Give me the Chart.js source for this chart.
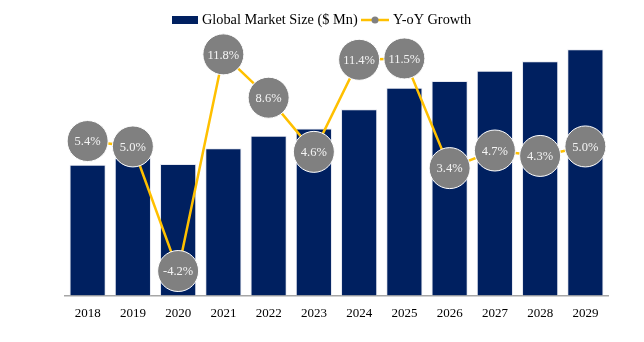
<!DOCTYPE html>
<html>
<head>
<meta charset="utf-8">
<script src="https://cdn.jsdelivr.net/npm/chart.js@4.4.1/dist/chart.umd.min.js"></script>
<style>
  html, body { margin: 0; padding: 0; background: #fff; }
  #wrap { width: 644px; height: 342px; }
</style>
</head>
<body>
<div id="wrap"><canvas id="marketChart"></canvas></div>
<script>
const years = ['2018', '2019', '2020', '2021', '2022', '2023', '2024', '2025', '2026', '2027', '2028', '2029'];
const marketSize = [1310, 1376, 1318, 1474, 1600, 1674, 1865, 2080, 2150, 2251, 2348, 2466];
const growth = [5.4, 5.0, -4.2, 11.8, 8.6, 4.6, 11.4, 11.5, 3.4, 4.7, 4.3, 5.0];

const NAVY = '#002060';
const GOLD = '#FFC000';
const GREY = '#808080';
const SERIF = "'Liberation Serif', 'DejaVu Serif', serif";

// legend drawn by hand: box for the bars, line-with-dot for the growth series
const legendPlugin = {
    id: 'customLegend',
    afterDraw(chart) {
        const c = chart.ctx;
        c.save();
        c.font = '14.3px ' + SERIF;
        c.textBaseline = 'middle';
        c.fillStyle = NAVY;
        c.fillRect(172, 16, 26, 8);
        c.fillStyle = '#000';
        c.fillText('Global Market Size ($ Mn)', 202, 20);
        c.strokeStyle = GOLD;
        c.lineWidth = 2.5;
        c.beginPath();
        c.moveTo(361, 20);
        c.lineTo(389, 20);
        c.stroke();
        c.fillStyle = GREY;
        c.beginPath();
        c.arc(375, 20, 3.5, 0, Math.PI * 2);
        c.fill();
        c.fillStyle = '#000';
        c.fillText('Y-oY Growth', 393, 20);
        c.restore();
    }
};

// percentage text inside each circle
const pointLabels = {
    id: 'pointLabels',
    afterDatasetsDraw(chart) {
        const meta = chart.getDatasetMeta(0);
        const c = chart.ctx;
        c.save();
        c.font = '12.5px ' + SERIF;
        c.fillStyle = '#f4f4f4';
        c.textAlign = 'center';
        c.textBaseline = 'middle';
        meta.data.forEach((pt, i) => {
            c.fillText(growth[i].toFixed(1) + '%', pt.x, pt.y + 1);
        });
        c.restore();
    }
};

new Chart(document.getElementById('marketChart'), {
    data: {
        labels: years,
        datasets: [{
            type: 'line',
            label: 'Y-oY Growth',
            data: growth,
            yAxisID: 'y2',
            order: 0,
            borderColor: GOLD,
            borderWidth: 2.5,
            tension: 0,
            pointRadius: 20.5,
            pointHoverRadius: 20.5,
            pointBackgroundColor: GREY,
            pointBorderColor: '#ffffff',
            pointBorderWidth: 1
        }, {
            type: 'bar',
            label: 'Global Market Size ($ Mn)',
            data: marketSize,
            yAxisID: 'y',
            order: 1,
            backgroundColor: NAVY,
            borderColor: '#e6e8f0',
            borderWidth: 1,
            barPercentage: 0.8,
            categoryPercentage: 1.0
        }]
    },
    options: {
        responsive: true,
        maintainAspectRatio: false,
        animation: false,
        layout: { padding: { left: 65, right: 36, top: 30, bottom: 11 } },
        plugins: {
            legend: { display: false },
            tooltip: { enabled: false }
        },
        scales: {
            x: {
                grid: { display: false, drawTicks: false },
                border: { display: true, color: '#a6a6a6', width: 1.5 },
                ticks: { color: '#000', padding: 10, font: { family: SERIF, size: 13 } }
            },
            y: {
                display: false,
                min: 0,
                max: 2660
            },
            y2: {
                display: false,
                min: -6,
                max: 13.6
            }
        }
    },
    plugins: [legendPlugin, pointLabels]
});
</script>
</body>
</html>
